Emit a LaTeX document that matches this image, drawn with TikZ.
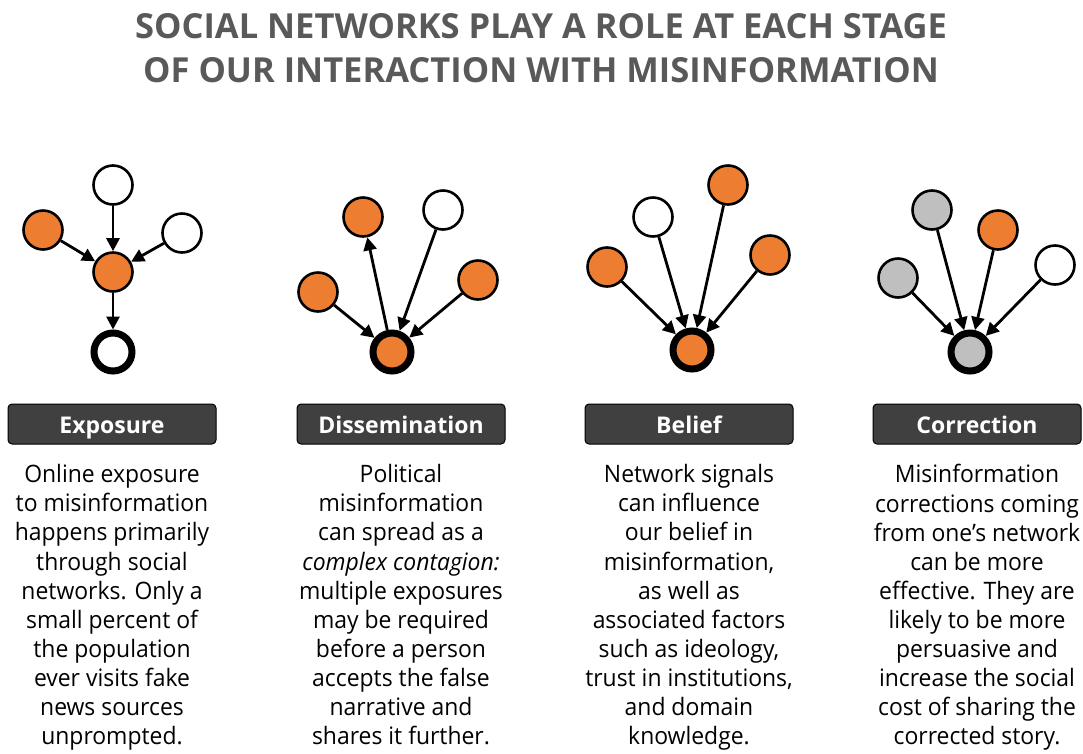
\documentclass[tikz,border=0pt]{standalone}
\usepackage{fontspec}
\setmainfont{Open Sans}
\usetikzlibrary{arrows.meta}

\definecolor{netorange}{HTML}{ED7D31}
\definecolor{netgray}{HTML}{BFBFBF}
\definecolor{boxgray}{HTML}{404040}
\definecolor{titlegray}{HTML}{595959}

\begin{document}
\begin{tikzpicture}[x=1pt,y=-1pt,
    vtx/.style={circle,draw,line width=2.6pt,minimum size=39pt,inner sep=0pt},
    src/.style={vtx,line width=7pt,minimum size=38pt},
    org/.style={fill=netorange}, gry/.style={fill=netgray},
    arr/.style={line width=2.8pt,-{Triangle[length=13pt,width=13pt]}},
    stage/.style={fill=boxgray,draw=black,line width=1pt,rounded corners=4pt,minimum width=208pt,
      minimum height=40pt,text height=18pt,text depth=0pt,text=white,
      font=\bfseries\fontsize{23}{26}\selectfont},
    blurb/.style={align=center,anchor=north,
      font=\addfontfeature{FakeStretch=0.955}\fontsize{24}{29.1}\selectfont}]
\useasboundingbox (0,0) rectangle (1083,753);

\node[align=center,text=titlegray,font=\bfseries\fontsize{34.5}{44}\selectfont] (title) at (541,48)
  {SOCIAL NETWORKS PLAY A ROLE AT EACH STAGE\\OF OUR INTERACTION WITH MISINFORMATION};

% exposure
\node[vtx] (e1) at (113,185) {};
\node[vtx,org] (e2) at (43,230) {};
\node[vtx] (e3) at (182,233) {};
\node[vtx,org] (e0) at (113,272) {};
\node[src] (e4) at (113,352) {};
\foreach \n in {e1,e2,e3} \draw[arr] (\n) -- (e0);
\draw[arr] (e0) -- (e4);

% dissemination
\node[vtx,org] (d1) at (318,292) {};
\node[vtx,org] (d2) at (363,217) {};
\node[vtx] (d3) at (443,210) {};
\node[vtx,org] (d4) at (478,280) {};
\node[src,org] (d0) at (392,352) {};
\foreach \n in {d1,d3,d4} \draw[arr] (\n) -- (d0);
\draw[arr] (d0) -- (d2);

% belief
\node[vtx,org] (b1) at (607,267) {};
\node[vtx] (b2) at (653,217) {};
\node[vtx,org] (b3) at (728,185) {};
\node[vtx,org] (b4) at (770,255) {};
\node[src,org] (b0) at (692,350) {};
\foreach \n in {b1,b2,b3,b4} \draw[arr] (\n) -- (b0);

% correction
\node[vtx,gry] (c1) at (898,278) {};
\node[vtx,gry] (c2) at (932,210) {};
\node[vtx,org] (c3) at (998,230) {};
\node[vtx] (c4) at (1055,265) {};
\node[src,gry] (c0) at (970,352) {};
\foreach \n in {c1,c2,c3,c4} \draw[arr] (\n) -- (c0);

% stage labels and descriptions
\node[stage] (s1) at (112,424) {Exposure};
\node[stage] (s2) at (401,424) {Dissemination};
\node[stage] (s3) at (689,424) {Belief};
\node[stage] (s4) at (977,424) {Correction};

\node[blurb] (t1) at (112,461) {Online exposure\\to misinformation\\happens primarily\\through social\\networks. Only a\\small percent of\\the population\\ever visits fake\\news sources\\unprompted.};
\node[blurb] (t2) at (401,461) {Political\\misinformation\\can spread as a\\\textit{complex contagion:}\\multiple exposures\\may be required\\before a person\\accepts the false\\narrative and\\shares it further.};
\node[blurb] (t3) at (689,461) {Network signals\\can influence\\our belief in\\misinformation,\\as well as\\associated factors\\such as ideology,\\trust in institutions,\\and domain\\knowledge.};
\node[blurb] (t4) at (977,461) {Misinformation\\corrections coming\\from one’s network\\can be more\\effective. They are\\likely to be more\\persuasive and\\increase the social\\cost of sharing the\\corrected story.};
\end{tikzpicture}
\end{document}
